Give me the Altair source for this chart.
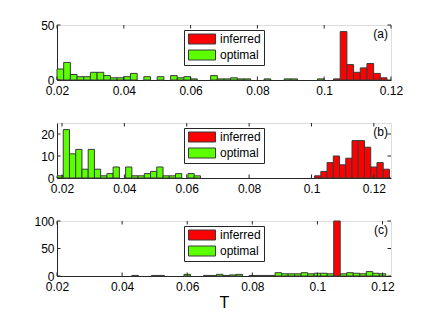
import altair as alt
import pandas as pd

# ---------------- data (histogram counts, bin width 0.002) ----------------
BIN_W = 0.002
SERIES = ["inferred", "optimal"]

# panel (a)
a_green_first = 0.020
a_green = [10, 16, 5, 3, 3, 7, 7, 4, 2, 2, 3, 6, 0, 3, 0, 3, 0, 4, 2, 3,
           1, 0, 0, 4, 1, 1, 2, 1, 1, 0, 0, 1, 0, 0, 1, 1, 0, 0, 0, 1]
a_red_first = 0.1028
a_red = [1, 44, 14, 7, 11, 15, 6, 2]

# panel (b)
b_green_first = 0.0184
b_green = [1, 22, 11, 13, 4, 13, 4, 1, 2, 5, 0, 5, 1, 1, 2, 3, 5, 1, 1, 2, 0, 2, 1]
b_red_first = 0.101
b_red = [1, 3, 7, 10, 6, 9, 17, 17, 14, 5, 7, 4]

# panel (c)
c_green_first = 0.021
c_green = [0, 0, 0, 0, 0, 0, 0, 0, 0, 0,
           0, 1, 0, 0, 1, 1, 0, 0, 0, 3,
           0, 0, 1, 1, 3, 1, 2, 3, 0, 1,
           1, 1, 1, 6, 4, 4, 4, 6, 4, 5,
           5, 4, 4, 4, 6, 5, 4, 8, 5, 4]
c_red_first = 0.105
c_red = [100]

x_ticks = [0.02, 0.04, 0.06, 0.08, 0.10, 0.12]

RED = "#FF0000"
GREEN = "#5CFF00"
EDGE = "#3a3a3a"
AX = "#262626"
FONT = "Liberation Sans"
W, H = 334, 55


def bins(first, counts, series):
    rows = []
    for i, c in enumerate(counts):
        if c > 0:
            s = first + i * BIN_W
            rows.append({"start": s, "end": s + BIN_W, "count": c, "series": series})
    return rows


def panel(green, red, xdom, ydom, yticks, tag, xtitle=None):
    df = pd.DataFrame(green + red)
    xscale = alt.Scale(domain=xdom, nice=False, zero=False)
    yscale = alt.Scale(domain=ydom, nice=False)
    xaxis_kw = dict(values=x_ticks, format=".2~f", ticks=False, grid=False,
                    labelPadding=5, domainColor=AX, labelFontSize=12,
                    labelFont=FONT, labelColor="black", labelFlush=False,
                    labelOverlap=False)
    if xtitle:
        xaxis_kw.update(title=xtitle, titleFontSize=16, titleFont=FONT,
                        titleFontWeight="normal", titlePadding=2, titleColor="black")
    else:
        xaxis_kw.update(title=None)
    xaxis = alt.Axis(**xaxis_kw)
    yaxis = alt.Axis(values=yticks, ticks=False, grid=False, title=None,
                     labelPadding=3, domainColor=AX, labelFontSize=12,
                     labelFont=FONT, labelColor="black", minExtent=43, maxExtent=43,
                     labelFlush=False, labelOverlap=False)
    bars = alt.Chart(df).mark_rect(stroke=EDGE, strokeWidth=1).encode(
        x=alt.X("start:Q", scale=xscale, axis=xaxis),
        x2="end:Q",
        y=alt.Y("count:Q", scale=yscale, axis=yaxis),
        y2=alt.datum(0),
        color=alt.Color("series:N",
                        scale=alt.Scale(domain=SERIES, range=[RED, GREEN]),
                        legend=alt.Legend(title=None, orient="none", legendX=127, legendY=5,
                                          direction="vertical",
                                          symbolType="M-2.7,-1H2.7V1H-2.7Z",
                                          symbolSize=100, symbolOffset=9,
                                          symbolStrokeColor=EDGE,
                                          symbolStrokeWidth=1, symbolOpacity=1,
                                          labelFontSize=12, labelFont=FONT,
                                          labelColor="black", labelOffset=12,
                                          strokeColor=AX, fillColor="white",
                                          padding=3, rowPadding=2)),
    )
    xt = pd.DataFrame({"start": x_ticks})
    yt = pd.DataFrame({"count": yticks})
    tx_top = alt.Chart(xt).mark_rule(color=AX, strokeWidth=1).encode(
        x=alt.X("start:Q", scale=xscale, axis=xaxis), y=alt.value(0), y2=alt.value(3.5))
    tx_bot = alt.Chart(xt).mark_rule(color=AX, strokeWidth=1).encode(
        x=alt.X("start:Q", scale=xscale, axis=xaxis), y=alt.value(H - 3.5), y2=alt.value(H))
    ty_l = alt.Chart(yt).mark_rule(color=AX, strokeWidth=1).encode(
        y=alt.Y("count:Q", scale=yscale, axis=yaxis), x=alt.value(0), x2=alt.value(3.5))
    ty_r = alt.Chart(yt).mark_rule(color=AX, strokeWidth=1).encode(
        y=alt.Y("count:Q", scale=yscale, axis=yaxis), x=alt.value(W - 3.5), x2=alt.value(W))
    lab = alt.Chart(pd.DataFrame({"t": [tag]})).mark_text(
        align="right", baseline="middle", fontSize=12, font=FONT, color="black"
    ).encode(text="t:N", x=alt.value(W - 3), y=alt.value(8.5))
    return alt.layer(bars, tx_top, tx_bot, ty_l, ty_r, lab).properties(width=W, height=H)


pa = panel(bins(a_green_first, a_green, "optimal"), bins(a_red_first, a_red, "inferred"),
           [0.02, 0.12], [0, 50], [0, 50], "(a)")
pb = panel(bins(b_green_first, b_green, "optimal"), bins(b_red_first, b_red, "inferred"),
           [0.0184, 0.1255], [0, 25], [0, 10, 20], "(b)")
pc = panel(bins(c_green_first, c_green, "optimal"), bins(c_red_first, c_red, "inferred"),
           [0.02, 0.1226], [0, 100], [0, 50, 100], "(c)", xtitle="T")

chart = alt.vconcat(pa, pb, pc, spacing=43, bounds="flush").resolve_scale(
    color="independent", x="independent", y="independent"
).resolve_legend(color="independent").properties(
    padding={"left": 5, "top": 10, "right": 5, "bottom": 5}
).configure_view(stroke=AX, strokeWidth=1).configure(background="white")

chart.save("out.html", embed_options={"renderer": "svg", "actions": False})
